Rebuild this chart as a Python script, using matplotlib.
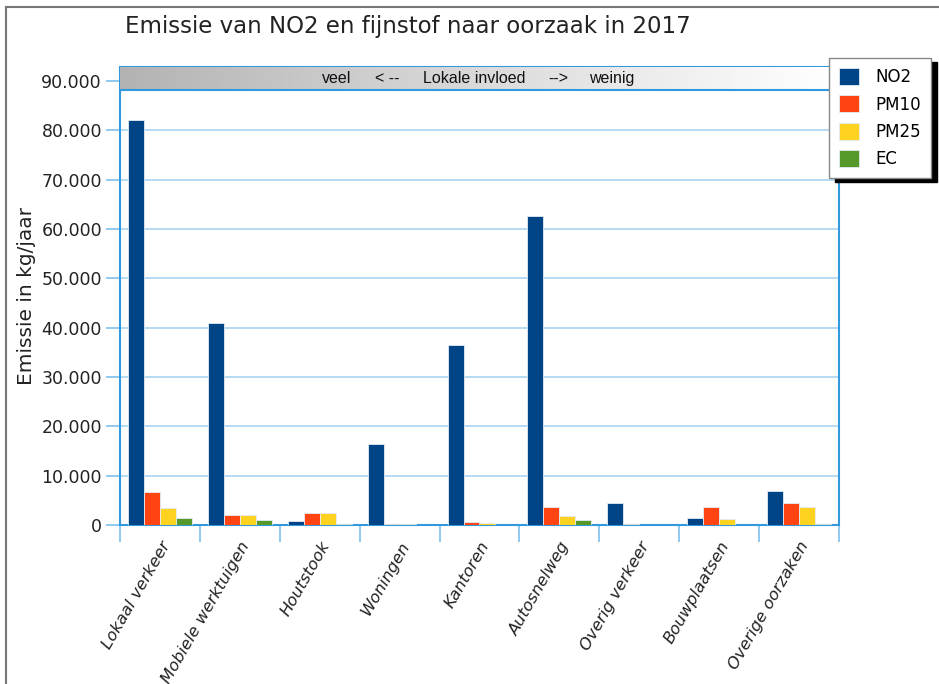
import matplotlib
matplotlib.use('Agg')
import matplotlib.pyplot as plt
import numpy as np
from matplotlib.ticker import FuncFormatter, FixedLocator

categories = ['Lokaal verkeer', 'Mobiele werktuigen', 'Houtstook', 'Woningen', 'Kantoren',
              'Autosnelweg', 'Overig verkeer', 'Bouwplaatsen', 'Overige oorzaken']
no2 = [82000, 40900, 750, 16450, 36500, 62700, 4450, 1350, 6950]
pm10 = [6700, 2100, 2500, 250, 550, 3550, 200, 3550, 4450]
pm25 = [3350, 1950, 2450, 150, 450, 1900, 100, 1300, 3750]
ec = [1350, 1000, 150, 50, 100, 950, 50, 0, 200]
series = ['NO2', 'PM10', 'PM25', 'EC']
colors = ['#004488', '#ff4411', '#ffd21f', '#55992a']

fig = plt.figure(figsize=(9.39, 6.84), dpi=100)
ax = fig.add_axes([120/939, 1-525/684, (839-120)/939, (525-67)/684])

x = np.arange(len(categories))
w = 0.2
for i, (vals, c, name) in enumerate(zip([no2, pm10, pm25, ec], colors, series)):
    ax.bar(x + (i - 1.5) * w, vals, w, color=c, label=name, edgecolor='#e4ecf4',
           linewidth=0.6, zorder=3)

ymax = 92840
banner_low = 88170
grad = np.linspace(0.64, 1.0, 256) ** 0.8
ax.imshow(grad.reshape(1, -1), extent=[-0.5, 8.5, banner_low, ymax], aspect='auto', cmap='gray',
          vmin=0, vmax=1, zorder=4)
ax.axhline(banner_low, color='#3399dd', lw=1.5, zorder=5)
bfont = ['Liberation Sans Narrow', 'Liberation Sans', 'DejaVu Sans']
# banner words, spread across like the original
for word, xp in [('veel', 2.21), ('< --', 2.85), ('Lokale invloed', 3.93), ('-->', 4.98), ('weinig', 5.66)]:
    ax.text(xp, (banner_low + ymax) / 2, word, ha='center', va='center', fontsize=11.5,
            family=bfont, color='#111111', zorder=6)

ax.set_xlim(-0.5, 8.5)
ax.set_ylim(0, ymax)

ax.yaxis.set_major_locator(FixedLocator(np.arange(0, 90001, 10000)))
ax.yaxis.set_major_formatter(FuncFormatter(lambda v, p: f'{int(v):,}'.replace(',', '.')))
ax.grid(axis='y', color='#a8d4f0', lw=1.2, zorder=1)
ax.tick_params(axis='y', length=10, color='#7fc0ec', width=1.2, labelsize=12.5, pad=3,
               labelcolor='#222222')

ax.set_xticks(x)
ax.set_xticklabels(categories, rotation=60, ha='right', va='top', rotation_mode='anchor',
                   fontsize=11.8, style='italic', color='#222222')
ax.tick_params(axis='x', which='major', length=0, pad=10)
ax.xaxis.set_minor_locator(FixedLocator(np.arange(-0.5, 9, 1)))
ax.tick_params(axis='x', which='minor', length=12, color='#7fc0ec', width=1.2)

for s in ax.spines.values():
    s.set_color('#3399dd')
    s.set_linewidth(1.5)

ax.set_ylabel('Emissie in kg/jaar', fontsize=14.5, labelpad=4, color='#222222')

fig.text(125/939, 1-27/684, 'Emissie van NO2 en fijnstof naar oorzaak in 2017',
         fontsize=16.5, ha='left', va='center', color='#222222')

# outer frame
fig.add_artist(plt.Line2D([6/939, 6/939], [0.0, 1-7/684], color='#777777', lw=1.5,
                          transform=fig.transFigure))
fig.add_artist(plt.Line2D([6/939, 1.0], [1-7/684, 1-7/684], color='#777777', lw=1.5,
                          transform=fig.transFigure))

leg = fig.legend(loc='upper left', bbox_to_anchor=(829/939, 1-58/684), fontsize=12,
                 handlelength=1.2, handleheight=1.2, labelspacing=0.55,
                 handletextpad=1.0, borderpad=0.6, borderaxespad=0, fancybox=False,
                 framealpha=1, edgecolor='#888888',
                 shadow={'color': 'black', 'alpha': 1, 'ox': 4, 'oy': -3})
leg.get_frame().set_linewidth(1.0)

fig.savefig('out.png', dpi=100)
